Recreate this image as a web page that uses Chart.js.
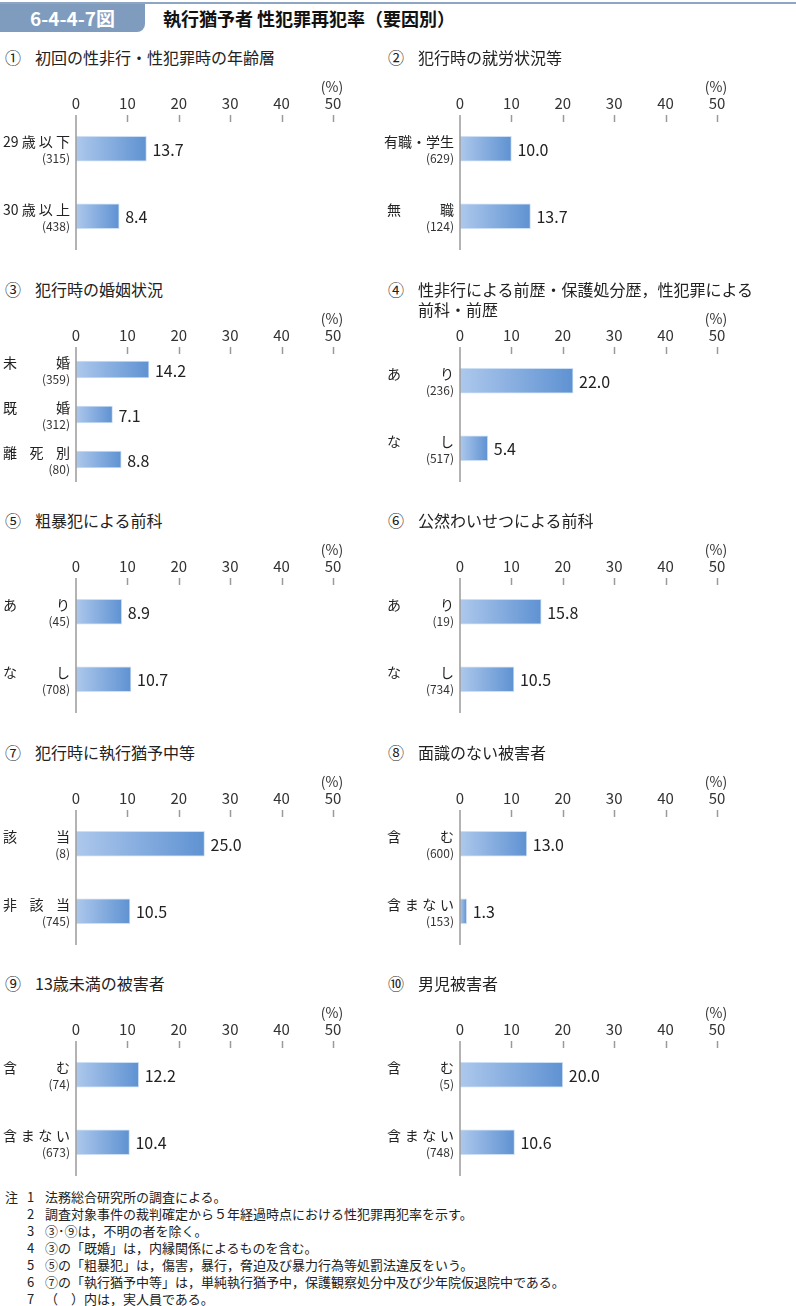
<!DOCTYPE html>
<html lang="ja">
<head>
<meta charset="utf-8">
<script src="https://cdn.jsdelivr.net/npm/chart.js@4/dist/chart.umd.min.js"></script>
<style>
  body { margin: 0; background: #fff; font-family: "Noto Sans CJK JP", "Noto Sans", sans-serif; color: #222; }
  #page { position: relative; width: 796px; height: 1306px; overflow: hidden; }
  .topline { position: absolute; left: 0; top: 2px; width: 796px; height: 2px; background: #8ea6c4; }
  .figno { position: absolute; left: 0; top: 4px; width: 145px; height: 28px; background: #7f9bbd;
           border-bottom-right-radius: 8px; color: #fff; font-weight: bold; font-size: 19px;
           line-height: 28px; text-align: center; }
  .figtitle { position: absolute; left: 163px; top: 4px; font-size: 18px; font-weight: bold; line-height: 28px; color: #111; }
  .ptitle { position: absolute; font-size: 16px; line-height: 20px; color: #222; white-space: pre; }
  .pnum { position: absolute; font-size: 16px; line-height: 20px; color: #222; }
  canvas { position: absolute; }
  .notes { position: absolute; left: 0; top: 1188px; font-size: 13px; line-height: 17px; color: #222; }
  .notes div { position: relative; height: 17px; }
  .notes span { position: absolute; }
</style>
</head>
<body>
<div id="page">
  <div class="topline"></div>
  <div class="figno">6-4-4-7図</div>
  <div class="figtitle">執行猶予者 性犯罪再犯率（要因別）</div>
</div>
<script>
const panelNums = ['①', '②', '③', '④', '⑤', '⑥', '⑦', '⑧', '⑨', '⑩'];
const panelTitles = [
  '初回の性非行・性犯罪時の年齢層',
  '犯行時の就労状況等',
  '犯行時の婚姻状況',
  '性非行による前歴・保護処分歴，性犯罪による\n前科・前歴',
  '粗暴犯による前科',
  '公然わいせつによる前科',
  '犯行時に執行猶予中等',
  '面識のない被害者',
  '13歳未満の被害者',
  '男児被害者'
];
// spaces mark where the label is spread out (均等割り)
const categories = [
  ['29 歳 以 下', '30 歳 以 上'],
  ['有職・学生', '無 職'],
  ['未 婚', '既 婚', '離 死 別'],
  ['あ り', 'な し'],
  ['あ り', 'な し'],
  ['あ り', 'な し'],
  ['該 当', '非 該 当'],
  ['含 む', '含 ま な い'],
  ['含 む', '含 ま な い'],
  ['含 む', '含 ま な い']
];
const counts = [
  [315, 438], [629, 124], [359, 312, 80], [236, 517], [45, 708],
  [19, 734], [8, 745], [600, 153], [74, 673], [5, 748]
];
const rates = [
  [13.7, 8.4], [10.0, 13.7], [14.2, 7.1, 8.8], [22.0, 5.4], [8.9, 10.7],
  [15.8, 10.5], [25.0, 10.5], [13.0, 1.3], [12.2, 10.4], [20.0, 10.6]
];
const xTicks = [0, 10, 20, 30, 40, 50];
const notes = [
  ['注', '1', '法務総合研究所の調査による。'],
  ['', '2', '調査対象事件の裁判確定から５年経過時点における性犯罪再犯率を示す。'],
  ['', '3', '③･⑨は，不明の者を除く。'],
  ['', '4', '③の「既婚」は，内縁関係によるものを含む。'],
  ['', '5', '⑤の「粗暴犯」は，傷害，暴行，脅迫及び暴力行為等処罰法違反をいう。'],
  ['', '6', '⑦の「執行猶予中等」は，単純執行猶予中，保護観察処分中及び少年院仮退院中である。'],
  ['', '7', '（　）内は，実人員である。']
];

const FONT = '"Noto Sans CJK JP", "Noto Sans", sans-serif';
const page = document.getElementById('page');

// axis line, tick marks, (%) label, category labels and values
const decorPlugin = {
  id: 'decor',
  afterDatasetsDraw(chart) {
    const { ctx, chartArea } = chart;
    const x = chart.scales.x;
    const idx = chart.options.plugins.decor.panel;
    const x0 = x.getPixelForValue(0);
    ctx.save();
    ctx.strokeStyle = '#9a9a9a';
    ctx.lineWidth = 1.5;
    ctx.beginPath();
    ctx.moveTo(x0, chartArea.top);
    ctx.lineTo(x0, chartArea.bottom);
    xTicks.slice(1).forEach(v => {
      const px = Math.round(x.getPixelForValue(v)) + 0.5;
      ctx.moveTo(px, chartArea.top);
      ctx.lineTo(px, chartArea.top + 7);
    });
    ctx.stroke();

    ctx.fillStyle = '#333';
    ctx.font = '14px ' + FONT;
    ctx.textAlign = 'center';
    ctx.textBaseline = 'middle';
    ctx.fillText('(%)', x.getPixelForValue(50) - 1, chartArea.top - 28);

    const meta = chart.getDatasetMeta(0);
    meta.data.forEach((bar, i) => {
      ctx.fillStyle = '#222';
      ctx.font = '16px ' + FONT;
      ctx.textAlign = 'left';
      ctx.fillText(rates[idx][i].toFixed(1), bar.x + 6, bar.y + 1);

      const right = chartArea.left - 6;
      const left = chartArea.left - 73;
      const parts = categories[idx][i].split(' ');
      ctx.font = '14px ' + FONT;
      const ly = bar.y - 7;
      if (parts.length === 1) {
        ctx.textAlign = 'right';
        ctx.fillText(parts[0], right, ly);
      } else {
        const widths = parts.map(p => ctx.measureText(p).width);
        const total = widths.reduce((a, b) => a + b, 0);
        const gap = (right - left - total) / (parts.length - 1);
        let cx = left;
        ctx.textAlign = 'left';
        parts.forEach((p, k) => {
          ctx.fillText(p, cx, ly);
          cx += widths[k] + gap;
        });
      }
      ctx.font = '12px ' + FONT;
      ctx.textAlign = 'right';
      ctx.fillStyle = '#333';
      ctx.fillText('(' + counts[idx][i] + ')', right, bar.y + 10);
    });
    ctx.restore();
  }
};

function barGradient(context) {
  const chart = context.chart;
  const x = chart.scales.x;
  if (!x || !chart.chartArea) return '#86aee0';
  const v = rates[context.chart.options.plugins.decor.panel][context.dataIndex];
  const x0 = x.getPixelForValue(0);
  const x1 = x.getPixelForValue(v);
  const g = chart.ctx.createLinearGradient(x0, 0, Math.max(x1, x0 + 1), 0);
  g.addColorStop(0, '#adc8ec');
  g.addColorStop(1, '#5f92d2');
  return g;
}

panelTitles.forEach((title, i) => {
  const col = i % 2;
  const row = Math.floor(i / 2);
  const colX = col ? 383 : 0;
  const chartTop = 115 + 231.5 * row;

  const num = document.createElement('div');
  num.className = 'pnum';
  num.style.left = (colX + 5) + 'px';
  num.style.top = (chartTop - 68) + 'px';
  num.textContent = panelNums[i];
  page.appendChild(num);

  const t = document.createElement('div');
  t.className = 'ptitle';
  t.style.left = (colX + 35) + 'px';
  t.style.top = (chartTop - 68) + 'px';
  t.textContent = title;
  page.appendChild(t);

  // chart area: x 76..333 (left column), 460..717 (right column)
  const canvasX = col ? 370 : 0;
  const padLeft = col ? 90 : 76;
  const canvas = document.createElement('canvas');
  canvas.width = 390 + padLeft - 76;
  canvas.height = 185;
  canvas.style.left = canvasX + 'px';
  canvas.style.top = (chartTop - 45) + 'px';
  page.appendChild(canvas);

  new Chart(canvas.getContext('2d'), {
    type: 'bar',
    data: {
      labels: categories[i],
      datasets: [{
        data: rates[i],
        backgroundColor: barGradient,
        borderColor: '#cddff4',
        borderWidth: 1,
        borderSkipped: false,
        barThickness: categories[i].length === 3 ? 17 : 25
      }]
    },
    options: {
      indexAxis: 'y',
      responsive: false,
      animation: false,
      layout: { padding: { top: 24, left: padLeft, right: 57, bottom: 5 } },
      plugins: {
        legend: { display: false },
        tooltip: { enabled: false },
        decor: { panel: i }
      },
      scales: {
        x: {
          position: 'top',
          min: 0,
          max: 50,
          ticks: { stepSize: 10, padding: 3, color: '#333', font: { family: FONT, size: 15 } },
          grid: { display: false, drawTicks: false },
          border: { display: false },
          afterFit(scale) { scale.height = 21; }
        },
        y: { display: false, offset: true }
      }
    },
    plugins: [decorPlugin]
  });
});

const noteBox = document.createElement('div');
noteBox.className = 'notes';
notes.forEach(n => {
  const line = document.createElement('div');
  line.innerHTML = '<span style="left:5px">' + n[0] + '</span><span style="left:27px">' + n[1] +
    '</span><span style="left:45px;white-space:nowrap">' + n[2] + '</span>';
  noteBox.appendChild(line);
});
page.appendChild(noteBox);
</script>
</body>
</html>
